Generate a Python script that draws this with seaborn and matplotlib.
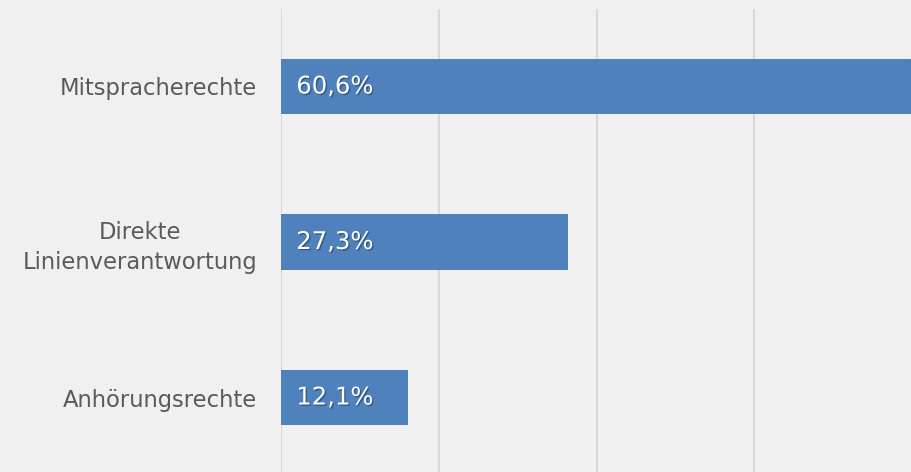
import matplotlib
matplotlib.use("Agg")
import matplotlib.pyplot as plt
import matplotlib.patheffects as pe
import seaborn as sns
import pandas as pd

categories = ["Mitspracherechte", "Direkte\nLinienverantwortung", "Anhörungsrechte"]
values = [0.606, 0.273, 0.121]
value_labels = ["60,6%", "27,3%", "12,1%"]

df = pd.DataFrame({"Kategorie": categories, "Anteil": values})

sns.set_theme(style="white")
plt.rcParams["font.family"] = ["DejaVu Sans"]

bg = "#f0f0f0"
fig = plt.figure(figsize=(9.12, 4.72), dpi=100, facecolor=bg)
ax = fig.add_axes([281 / 912, -0.0069, 1 - 281 / 912, 0.9884], facecolor=bg)

sns.barplot(data=df, y="Kategorie", x="Anteil", orient="h", color="#4f81bd",
            saturation=1, width=0.354, ax=ax, zorder=3, linewidth=0, edgecolor="none")

ax.set_xlim(0, 0.598)
ax.set_ylim(2.5, -0.5)
ax.set_xticks([0, 0.15, 0.30, 0.45, 0.60])
ax.xaxis.grid(True, color="#d9d9d9", linewidth=1.5, zorder=0)
ax.set_axisbelow(True)
ax.tick_params(axis="x", bottom=False, labelbottom=False)
ax.tick_params(axis="y", left=False, pad=11, labelsize=16.3, labelcolor="#5a5a5a")
for lbl in ax.get_yticklabels():
    lbl.set_multialignment("center")
    lbl.set_linespacing(1.35)
ax.set_xlabel("")
ax.set_ylabel("")
for s in ax.spines.values():
    s.set_visible(False)

for i, (v, t) in enumerate(zip(values, value_labels)):
    ax.annotate(t, xy=(0, i), xytext=(11, 0), textcoords="offset points",
                va="center", ha="left", color="white", fontsize=17.5, zorder=5,
                path_effects=[pe.withSimplePatchShadow(offset=(1, -1), shadow_rgbFace="#1f3550", alpha=0.5)])

fig.savefig("out.png", dpi=100, facecolor=bg)
